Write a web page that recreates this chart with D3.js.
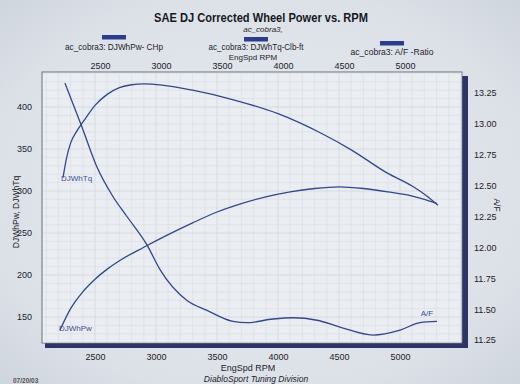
<!DOCTYPE html>
<html><head><meta charset="utf-8">
<script src="https://cdn.jsdelivr.net/npm/d3@7"></script>
<style>
html,body{margin:0;padding:0;background:#dde2e9;}
svg{display:block;font-family:"Liberation Sans",Arial,sans-serif;}
</style></head>
<body>
<svg id="c" width="520" height="384"></svg>
<script>
// ---- data ----
const rpmTicks = [2500, 3000, 3500, 4000, 4500, 5000];
const leftTicks = [150, 200, 250, 300, 350, 400];
const rightTicks = [11.25, 11.5, 11.75, 12.0, 12.25, 12.5, 12.75, 13.0, 13.25];

const powerRpm = [2213, 2300, 2400, 2500, 2600, 2700, 2900, 3100, 3300, 3500, 3700, 3900, 4100, 4300, 4500, 4700, 4900, 5100, 5200, 5303];
const powerHp  = [134.5, 160, 180, 195, 207, 217, 233, 248, 262, 275, 285, 293, 299, 303, 305, 303, 299, 294, 290, 285];

const torqueRpm = [2238, 2265, 2300, 2350, 2420, 2500, 2600, 2700, 2800, 2900, 3050, 3300, 3650, 4000, 4350, 4600, 4900, 5100, 5220, 5311];
const torqueLbft = [316, 338, 357, 371, 386, 402, 415, 423, 426.5, 427.5, 426, 420, 408, 392, 369, 349, 321, 306, 294, 283];

const afRpm = [2254, 2393, 2516, 2648, 2762, 2926, 3033, 3254, 3418, 3631, 3746, 3959, 4123, 4320, 4508, 4779, 5000, 5164, 5303];
const afRatio = [13.33, 12.975, 12.65, 12.41, 12.25, 12.02, 11.82, 11.57, 11.49, 11.40, 11.39, 11.42, 11.43, 11.41, 11.355, 11.29, 11.33, 11.39, 11.40];

const legendLabels = ["ac_cobra3: DJWhPw- CHp", "ac_cobra3: DJWhTq-Clb-ft", "ac_cobra3:  A/F  -Ratio"];

// ---- drawing ----
const svg = d3.select("#c");
const W = 520, H = 384;
const lineCol = "#33478c", ink = "#1e2128";
const FF = "Liberation Sans, Arial, sans-serif";

// paper background with darker edges
const defs = svg.append("defs");
const rg = defs.append("radialGradient").attr("id","paper").attr("cx","50%").attr("cy","50%").attr("r","75%");
rg.append("stop").attr("offset","0%").attr("stop-color","#e6eaef");
rg.append("stop").attr("offset","70%").attr("stop-color","#dce1e8");
rg.append("stop").attr("offset","100%").attr("stop-color","#ccd2db");
svg.append("rect").attr("width",W).attr("height",H).attr("fill","url(#paper)");

const L = 42, R = 462, T = 72, B = 343;
const x = d3.scaleLinear().domain([2500, 5000]).range([95, 400]);
const xTop = d3.scaleLinear().domain([2500, 5000]).range([100, 405]);
const yL = d3.scaleLinear().domain([150, 400]).range([317, 107]);
const yR = d3.scaleLinear().domain([11.25, 13.25]).range([340, 93]);

// shadow (3D frame)
svg.append("rect").attr("x", R).attr("y", T + 4).attr("width", 6).attr("height", B - T + 1).attr("fill", "#2c3565");
svg.append("rect").attr("x", L + 3).attr("y", B).attr("width", R - L + 3).attr("height", 5).attr("fill", "#2c3565");
// plot face
svg.append("rect").attr("x", L).attr("y", T).attr("width", R - L).attr("height", B - T)
  .attr("fill", "#eaedf1").attr("stroke", "#6a717c").attr("stroke-width", 1);

// grid
const g = svg.append("g");
const xMin = x.invert(L), xMax = x.invert(R);
const vGrid = d3.range(Math.ceil(xMin / 100) * 100, xMax, 100);
g.selectAll("line.v").data(vGrid).join("line")
  .attr("x1", d => x(d)).attr("x2", d => x(d)).attr("y1", T + 1).attr("y2", B - 1)
  .attr("stroke", d => d % 500 === 0 ? "#d3d8df" : "#dde1e7").attr("stroke-width", 0.8);
const hGrid = d3.range(Math.ceil(yL.invert(B) / 10) * 10, yL.invert(T), 10);
g.selectAll("line.h").data(hGrid).join("line")
  .attr("x1", L + 1).attr("x2", R - 1).attr("y1", d => yL(d)).attr("y2", d => yL(d))
  .attr("stroke", d => d % 50 === 0 ? "#d3d8df" : "#dde1e7").attr("stroke-width", 0.8);

// axes
function styleAxis(sel) {
  sel.select(".domain").remove();
  sel.selectAll(".tick line").remove();
  sel.selectAll("text").attr("fill", ink).attr("font-size", 9).attr("font-family", FF);
}
svg.append("g").attr("transform", `translate(0,${B + 8})`)
  .call(d3.axisBottom(x).tickValues(rpmTicks).tickFormat(d3.format("d")).tickSize(0)).call(styleAxis);
svg.append("g").attr("transform", `translate(0,${T})`)
  .call(d3.axisTop(xTop).tickValues(rpmTicks).tickFormat(d3.format("d")).tickSize(0)).call(styleAxis);
svg.append("g").attr("transform", `translate(${L - 7},0)`)
  .call(d3.axisLeft(yL).tickValues(leftTicks).tickFormat(d3.format("d")).tickSize(0)).call(styleAxis);
svg.append("g").attr("transform", `translate(${R + 9},0)`)
  .call(d3.axisRight(yR).tickValues(rightTicks).tickFormat(d3.format(".2f")).tickSize(0)).call(styleAxis);

// axis titles
svg.append("text").attr("transform", "translate(19,212) rotate(-90)").attr("text-anchor", "middle")
  .attr("font-size", 8.5).attr("fill", ink).text("DJWhPw, DJWhTq");
svg.append("text").attr("transform", "translate(494,205) rotate(90)").attr("text-anchor", "middle")
  .attr("font-size", 8.5).attr("fill", ink).text("A/F");
svg.append("text").attr("x", 248).attr("y", 370.5).attr("text-anchor", "middle")
  .attr("font-size", 9).attr("fill", ink).text("EngSpd  RPM");
svg.append("text").attr("x", 256).attr("y", 382).attr("text-anchor", "middle")
  .attr("font-size", 8.5).attr("font-style", "italic").attr("fill", ink).text("DiabloSport Tuning Division");

// title & legend
svg.append("text").attr("x", 261).attr("y", 22).attr("text-anchor", "middle")
  .attr("font-size", 13).attr("font-weight", "bold").attr("fill", "#16181d")
  .attr("textLength", 214).attr("lengthAdjust", "spacingAndGlyphs")
  .text("SAE DJ Corrected Wheel Power vs. RPM");
svg.append("text").attr("x", 263).attr("y", 31.5).attr("text-anchor", "middle")
  .attr("font-size", 8).attr("font-style", "italic").attr("fill", ink).text("ac_cobra3,");
const legPos = [{cx: 114, ry: 35, ty: 49.5, w: 98}, {cx: 256, ry: 37, ty: 50, w: 95}, {cx: 392, ry: 41, ty: 54.5, w: 83}];
legPos.forEach((p, i) => {
  svg.append("rect").attr("x", p.cx - 12).attr("y", p.ry).attr("width", 24).attr("height", 4.5).attr("fill", "#2a3c8c");
  svg.append("text").attr("x", p.cx).attr("y", p.ty).attr("text-anchor", "middle")
    .attr("font-size", 8.5).attr("fill", ink)
    .attr("textLength", p.w).attr("lengthAdjust", "spacingAndGlyphs").text(legendLabels[i]);
});
svg.append("text").attr("x", 253).attr("y", 59.5).attr("text-anchor", "middle")
  .attr("font-size", 8).attr("fill", ink).text("EngSpd  RPM");

// curves
const lineL = d3.line().x(d => x(d[0])).y(d => yL(d[1])).curve(d3.curveMonotoneX);
const lineR = d3.line().x(d => x(d[0])).y(d => yR(d[1])).curve(d3.curveMonotoneX);
const plot = svg.append("g");
plot.append("path").datum(d3.zip(powerRpm, powerHp)).attr("d", lineL)
  .attr("fill", "none").attr("stroke", lineCol).attr("stroke-width", 1.3);
plot.append("path").datum(d3.zip(torqueRpm, torqueLbft)).attr("d", lineL)
  .attr("fill", "none").attr("stroke", lineCol).attr("stroke-width", 1.3);
plot.append("path").datum(d3.zip(afRpm, afRatio)).attr("d", lineR)
  .attr("fill", "none").attr("stroke", lineCol).attr("stroke-width", 1.3);

// series labels
const lab = (t, xx, yy) => svg.append("text").attr("x", xx).attr("y", yy).attr("font-size", 8)
  .attr("fill", "#3a4f95").text(t);
lab("DJWhTq", x(torqueRpm[0]) - 2, yL(torqueLbft[0]) + 3);
lab("DJWhPw", x(powerRpm[0]) - 1, yL(powerHp[0]) + 1);
lab("A/F", x(5170), yR(11.40) - 5);

// date stamp at the page edge
svg.append("text").attr("x", 13).attr("y", 383).attr("font-size", 6.5).attr("font-weight", "bold").attr("fill", "#555").text("07/20/03");
</script>
</body></html>
